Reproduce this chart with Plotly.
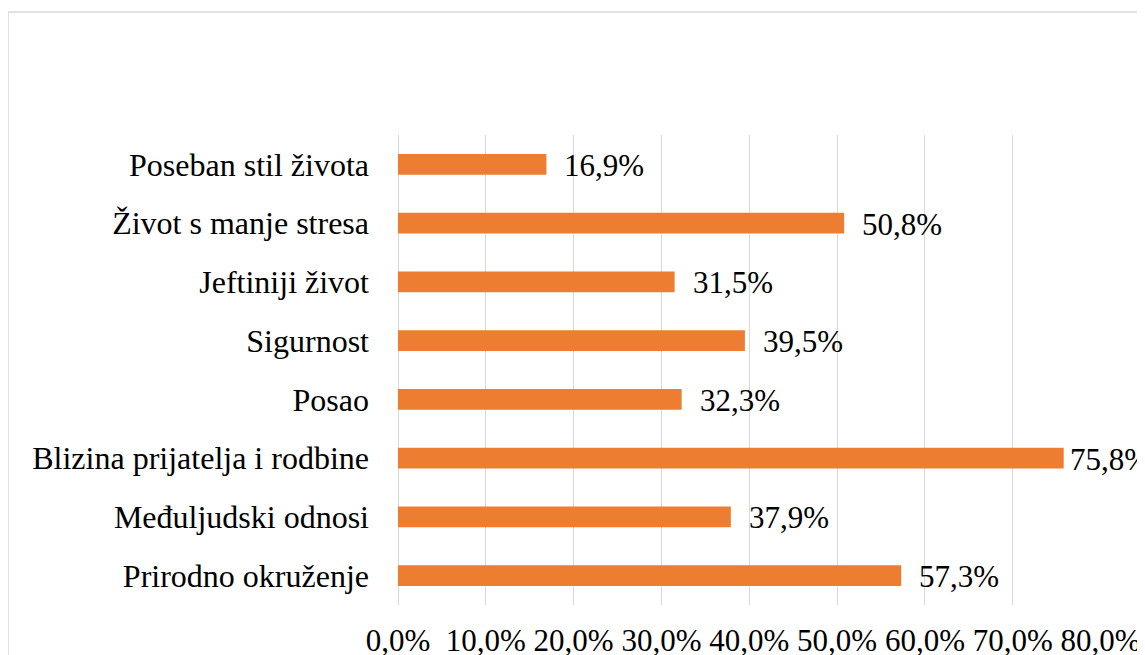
import plotly.graph_objects as go

categories = [
    "Poseban stil života",
    "Život s manje stresa",
    "Jeftiniji život",
    "Sigurnost",
    "Posao",
    "Blizina prijatelja i rodbine",
    "Međuljudski odnosi",
    "Prirodno okruženje",
]
values = [16.9, 50.8, 31.5, 39.5, 32.3, 75.8, 37.9, 57.3]
tick_vals = [0, 10, 20, 30, 40, 50, 60, 70, 80]
tick_text = ["0,0%", "10,0%", "20,0%", "30,0%", "40,0%", "50,0%", "60,0%", "70,0%", "80,0%"]
value_labels = [f"{v:.1f}%".replace(".", ",") for v in values]

FONT = "Times New Roman, Liberation Serif, serif"
# page has an 8px body margin; offset the layout so it lands like the reference
W, H = 1137, 655
L, T = 390, 127
plot_w, plot_h = 703, 470
R = W - L - plot_w
B = H - T - plot_h

fig = go.Figure()
fig.add_trace(go.Bar(
    y=categories,
    x=values,
    orientation="h",
    marker=dict(color="#ED7D31", line=dict(width=0)),
    width=0.35,
    hoverinfo="skip",
))

for cat, v, lab in zip(categories, values, value_labels):
    fig.add_annotation(
        x=v, y=cat, xref="x", yref="y",
        text=lab, showarrow=False,
        xanchor="left", yanchor="middle",
        xshift=4 if v > 70 else 16, yshift=-1,
        font=dict(family=FONT, size=31, color="#000000"),
    )

# outer chart border (decoration)
fig.add_shape(
    type="rect", xref="paper", yref="paper",
    x0=(0 - L) / plot_w, x1=(W + 10 - L) / plot_w,
    y0=(T + plot_h - (H + 10)) / plot_h, y1=(T + plot_h - 4) / plot_h,
    line=dict(color="#d9d9d9", width=1.5),
    fillcolor="rgba(0,0,0,0)", layer="below",
)

fig.update_layout(
    width=W, height=H,
    margin=dict(l=L, r=R, t=T, b=B, autoexpand=False),
    paper_bgcolor="white", plot_bgcolor="white",
    showlegend=False,
    font=dict(family=FONT, size=31, color="#000000"),
)
fig.update_xaxes(
    range=[0, 80.05],
    tickvals=tick_vals, ticktext=tick_text,
    showgrid=True, gridcolor="#d9d9d9", gridwidth=1.3,
    zeroline=True, zerolinecolor="#d9d9d9", zerolinewidth=1.3,
    showline=False, ticks="",
    ticklabelstandoff=14,
    tickfont=dict(family=FONT, size=31, color="#000000"),
    fixedrange=True,
)
fig.update_yaxes(
    categoryorder="array", categoryarray=categories,
    autorange="reversed",
    showgrid=False, zeroline=False, showline=False, ticks="",
    ticklabelstandoff=28,
    tickfont=dict(family=FONT, size=32, color="#000000"),
    fixedrange=True,
)

fig.write_html("out.html", config={"displayModeBar": False})
